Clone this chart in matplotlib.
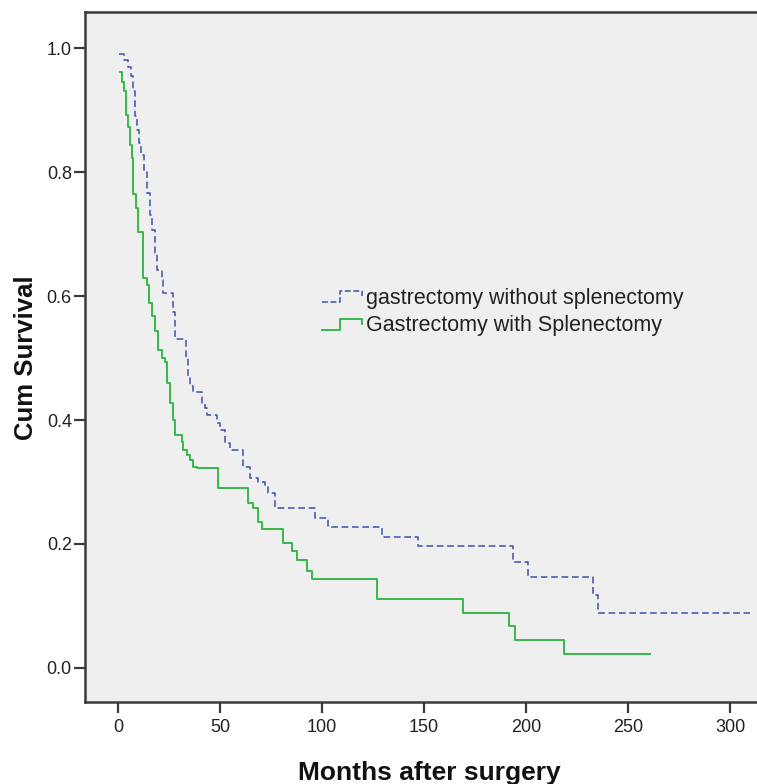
import matplotlib
matplotlib.use("Agg")
import matplotlib.pyplot as plt
from matplotlib.lines import Line2D
from matplotlib.legend_handler import HandlerBase

# ---- data ----
blue_label = "gastrectomy without splenectomy"
blue_t = [0.5, 3, 5, 6.5, 7.3, 8.3, 9.3, 10.3, 11.5, 12.5, 14, 15.5, 16.5, 18, 19,
          21.4, 22, 27, 28, 33.5, 34.5, 35.5, 37, 41, 42.6, 43.5, 48.3, 50, 52.5, 55,
          61.3, 64.7, 68.5, 72, 73.5, 77, 96.6, 103, 129.3, 147.2, 193.8, 201.1, 233, 235.4]
blue_s = [0.99, 0.98, 0.97, 0.955, 0.93, 0.89, 0.867, 0.847, 0.828, 0.803, 0.766, 0.73,
          0.706, 0.67, 0.642, 0.626, 0.605, 0.575, 0.53, 0.50, 0.47, 0.455, 0.445, 0.427,
          0.419, 0.408, 0.395, 0.384, 0.363, 0.352, 0.324, 0.306, 0.30, 0.295, 0.282,
          0.258, 0.242, 0.227, 0.212, 0.196, 0.171, 0.147, 0.118, 0.088]
blue_end = 310

green_label = "Gastrectomy with Splenectomy"
green_t = [0.8, 2.0, 2.7, 3.9, 5.0, 5.9, 6.7, 7.5, 8.8, 10.0, 12.4, 14.1, 15.3, 16.5,
           18.1, 19.8, 21.4, 23.0, 24.0, 25.5, 27.1, 28.0, 31.2, 32.0, 33.7, 35.3, 36.9,
           38.6, 49.2, 63.9, 66.3, 68.8, 70.4, 81.0, 85.1, 87.5, 92.5, 95.0, 126.8,
           169.3, 191.8, 194.6, 218.6]
green_s = [0.962, 0.945, 0.93, 0.892, 0.873, 0.844, 0.823, 0.765, 0.742, 0.704, 0.629,
           0.618, 0.589, 0.567, 0.543, 0.513, 0.50, 0.494, 0.46, 0.427, 0.40, 0.376,
           0.365, 0.352, 0.344, 0.335, 0.325, 0.322, 0.29, 0.266, 0.258, 0.236, 0.224,
           0.201, 0.188, 0.174, 0.157, 0.143, 0.111, 0.089, 0.067, 0.045, 0.022]
green_end = 260.8

x_ticks = [0, 50, 100, 150, 200, 250, 300]
y_ticks = [0.0, 0.2, 0.4, 0.6, 0.8, 1.0]
x_label = "Months after surgery"
y_label = "Cum Survival"

# ---- style ----
BLUE = "#4458AE"
GREEN = "#38B84A"
BG = "#EFEFEF"
SPINE = "#3a3a3a"
plt.rcParams['font.family'] = ['Liberation Sans', 'DejaVu Sans']

W, H = 757, 784
fig = plt.figure(figsize=(W / 100, H / 100), dpi=100)
fig.patch.set_facecolor("white")

ax_left_px, ax_right_px, ax_top_px, ax_bot_px = 85, 762, 12, 702
ax = fig.add_axes([ax_left_px / W, 1 - ax_bot_px / H,
                   (ax_right_px - ax_left_px) / W, (ax_bot_px - ax_top_px) / H])
ax.set_facecolor(BG)

# pixel calibration: x = 118 + 2.04*t ; y = 668 - 620*s
ax.set_xlim((ax_left_px - 118) / 2.04, (ax_right_px - 118) / 2.04)
ax.set_ylim((668 - ax_bot_px) / 620, (668 - ax_top_px) / 620)

ax.step(blue_t + [blue_end], blue_s + [blue_s[-1]], where="post", color=BLUE,
        lw=1.15, linestyle=(0, (4.2, 2.3)))
ax.step(green_t + [green_end], green_s + [green_s[-1]], where="post", color=GREEN,
        lw=1.4)

ax.set_xticks(x_ticks)
ax.set_xticklabels([str(v) for v in x_ticks])
ax.set_yticks(y_ticks)
ax.set_yticklabels([f"{v:.1f}" for v in y_ticks])
ax.tick_params(axis="both", direction="out", length=8, width=1.6, color=SPINE,
               labelsize=13, labelcolor="#222222")
ax.tick_params(axis="y", pad=1.5)
ax.tick_params(axis="x", pad=4)

for side in ["left", "bottom", "top", "right"]:
    ax.spines[side].set_color(SPINE)
    ax.spines[side].set_linewidth(1.8)

ax.set_xlabel(x_label, fontsize=19, fontweight="bold", color="#111111")
ax.set_ylabel(y_label, fontsize=18.5, fontweight="bold", color="#111111")
ax.xaxis.set_label_coords((429 - ax_left_px) / (ax_right_px - ax_left_px),
                          (ax_bot_px - 761) / (ax_bot_px - ax_top_px))
ax.yaxis.set_label_coords((38 - ax_left_px) / (ax_right_px - ax_left_px),
                          (ax_bot_px - 358) / (ax_bot_px - ax_top_px))


class StepHandler(HandlerBase):
    def create_artists(self, legend, orig_handle, xdescent, ydescent, width, height,
                       fontsize, trans):
        lo = -ydescent + height * 0.1
        hi = -ydescent + height * 0.85
        xs = [-xdescent, -xdescent + 0.45 * width, -xdescent + 0.45 * width,
              -xdescent + width, -xdescent + width]
        ys = [lo, lo, hi, hi, hi - 0.45 * (hi - lo)]
        ln = Line2D(xs, ys, color=orig_handle.get_color(),
                    linestyle=orig_handle.get_linestyle(),
                    linewidth=orig_handle.get_linewidth(), transform=trans)
        return [ln]


h_blue = Line2D([], [], color=BLUE, lw=1.15, linestyle=(0, (2.5, 2.0)))
h_green = Line2D([], [], color=GREEN, lw=1.4)
leg = ax.legend([h_blue, h_green], [blue_label, green_label],
                handler_map={Line2D: StepHandler()},
                loc="upper left",
                bbox_to_anchor=((322 - ax_left_px) / (ax_right_px - ax_left_px),
                                (ax_bot_px - 288) / (ax_bot_px - ax_top_px)),
                frameon=False, fontsize=15.5, borderpad=0, borderaxespad=0,
                handlelength=1.85, handleheight=0.7, handletextpad=0.2,
                labelspacing=0.3)
for t in leg.get_texts():
    t.set_color("#222222")

fig.savefig("out.png", dpi=100)
